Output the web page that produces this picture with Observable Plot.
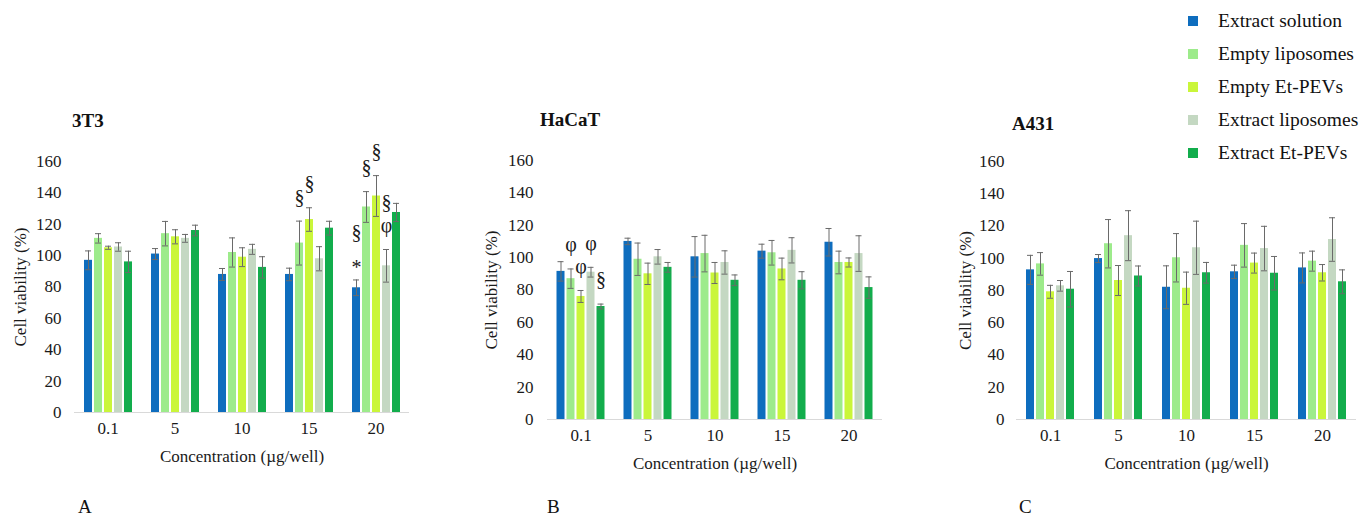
<!DOCTYPE html>
<html>
<head>
<meta charset="utf-8">
<script src="https://cdn.jsdelivr.net/npm/d3@7"></script>
<script src="https://cdn.jsdelivr.net/npm/@observablehq/plot@0.6"></script>
<style>
  body { margin: 0; background: #fff; font-family: "Liberation Serif", serif; }
  #page { position: relative; width: 1365px; height: 517px; overflow: hidden; background: #fff; }
  .abs { position: absolute; white-space: nowrap; }
  .title { font-weight: bold; font-size: 19px; line-height: 19px; color: #111; }
  .letter { font-size: 19px; line-height: 15px; color: #111; }
  .leg { font-size: 19.5px; line-height: 19.5px; color: #111; }
  .sw { width: 10px; height: 10px; }
  #page svg, #page svg text { font-family: "Liberation Serif", serif !important; }
</style>
</head>
<body>
<div id="page"></div>
<script>
// ---------- data ----------
const concentrations = ["0.1", "5", "10", "15", "20"];
const seriesNames = ["Extract solution", "Empty liposomes", "Empty Et-PEVs", "Extract liposomes", "Extract Et-PEVs"];
const seriesColors = ["#0E6DBE", "#9DEB8B", "#CAF63A", "#C4D8C2", "#12AD4C"];
const yTicks = [0, 20, 40, 60, 80, 100, 120, 140, 160];
const panelTitles = ["3T3", "HaCaT", "A431"];
const panelLetters = ["A", "B", "C"];

// 3T3 – rows: series, columns: concentrations
const mean3T3 = [
  [97, 101, 88, 88, 79.5],
  [111, 114, 102, 108, 131],
  [105, 112, 99, 123, 138],
  [105.5, 111, 104, 98, 93.5],
  [96, 116, 92.5, 117.5, 127.5]
];
const err3T3 = [
  [6, 3.5, 3.8, 4, 5],
  [3, 7.8, 9.3, 14, 9.8],
  [1, 4.5, 6, 7.5, 13],
  [2.7, 2.5, 3.2, 7.7, 10.4],
  [6.8, 3.4, 6.8, 4.4, 5.8]
];
const annot3T3 = [
  {conc: "15", series: "Empty liposomes", symbol: "§", level: 0},
  {conc: "15", series: "Empty Et-PEVs", symbol: "§", level: 0},
  {conc: "20", series: "Extract solution", symbol: "*", level: 0},
  {conc: "20", series: "Extract solution", symbol: "§", level: 1},
  {conc: "20", series: "Empty liposomes", symbol: "§", level: 0},
  {conc: "20", series: "Empty Et-PEVs", symbol: "§", level: 0},
  {conc: "20", series: "Extract liposomes", symbol: "φ", level: 0},
  {conc: "20", series: "Extract liposomes", symbol: "§", level: 1}
];

// HaCaT
const meanHaCaT = [
  [91.5, 110, 100.5, 104, 109.5],
  [87, 99, 102.5, 103, 97],
  [76, 90, 90.5, 93, 97],
  [91, 100.5, 97, 104.5, 102.5],
  [69.8, 94, 86, 86, 81.5]
];
const errHaCaT = [
  [6, 2, 12.5, 4.3, 8.5],
  [6, 10, 11.3, 7.6, 7],
  [3.7, 6.6, 6.5, 6.7, 2.8],
  [3, 4.5, 7.2, 7.8, 11],
  [1.5, 3, 3.3, 5.3, 6.6]
];
const annotHaCaT = [
  {conc: "0.1", series: "Empty liposomes", symbol: "φ", level: 0},
  {conc: "0.1", series: "Empty Et-PEVs", symbol: "φ", level: 0},
  {conc: "0.1", series: "Extract liposomes", symbol: "φ", level: 0},
  {conc: "0.1", series: "Extract Et-PEVs", symbol: "§", level: 0}
];

// A431
const meanA431 = [
  [92.8, 99.8, 82, 91.6, 94],
  [96.5, 109, 100.3, 108, 98.2],
  [79.2, 86.2, 81.4, 97, 91],
  [82.9, 114, 106.5, 106, 111.6],
  [80.8, 89, 91, 90.7, 85.4]
];
const errA431 = [
  [9, 2.5, 13.3, 4.1, 9.3],
  [7, 15, 15, 13.5, 6.2],
  [4, 9.3, 10, 6.2, 5.1],
  [3.3, 15.5, 16.5, 13.8, 13.5],
  [11, 6.2, 6.4, 10.4, 7.4]
];
const annotA431 = [];

// ---------- drawing ----------
const page = document.getElementById("page");

function place(el, left, top) {
  el.classList.add("abs");
  el.style.left = left + "px";
  el.style.top = top + "px";
  page.appendChild(el);
  return el;
}

function makePanel(mean, err, annot, layout) {
  const data = [];
  seriesNames.forEach((s, i) => concentrations.forEach((c, j) =>
    data.push({series: s, conc: c, mean: mean[i][j], err: err[i][j]})));
  const byKey = new Map(data.map(d => [d.series + "|" + d.conc, d]));
  const ann = annot.map(a => {
    const d = byKey.get(a.series + "|" + a.conc);
    const base = a.symbol === "*" ? 12 : 24;
    return {...a, top: d.mean + d.err, off: base + 23 * a.level};
  });
  const annGroups = d3.groups(ann, d => d.off);

  const chart = Plot.plot({
    width: layout.width,
    height: layout.height,
    marginLeft: layout.marginLeft,
    marginRight: layout.marginRight,
    marginTop: layout.marginTop,
    marginBottom: layout.marginBottom,
    style: {fontFamily: "'Liberation Serif', serif", fontSize: "17px", color: "#1a1a1a", background: "transparent", overflow: "visible"},
    fx: {domain: concentrations, padding: 0, axis: "bottom", tickSize: 0, tickPadding: 9,
         label: "Concentration (µg/well)", labelAnchor: "center", labelOffset: layout.xLabelOffset, labelArrow: false},
    x: {domain: seriesNames, axis: null, paddingInner: 0.2, paddingOuter: 0.95},
    y: {domain: [0, 160], ticks: yTicks, tickSize: 0, tickPadding: layout.tickPadding,
        label: "Cell viability (%)", labelAnchor: "center", labelOffset: layout.yLabelOffset, labelArrow: false},
    color: {domain: seriesNames, range: seriesColors},
    marks: [
      Plot.ruleY([0], {stroke: "#d9d9d9", strokeWidth: 1}),
      Plot.barY(data, {fx: "conc", x: "series", y: "mean", fill: "series"}),
      Plot.ruleX(data, {fx: "conc", x: "series", y1: d => d.mean - d.err, y2: d => d.mean + d.err, stroke: "#6a6a6a", strokeWidth: 1}),
      Plot.tickY(data, {fx: "conc", x: "series", y: d => d.mean + d.err, stroke: "#6a6a6a", strokeWidth: 1, insetLeft: 1, insetRight: 1}),
      Plot.tickY(data, {fx: "conc", x: "series", y: d => d.mean - d.err, stroke: "#6a6a6a", strokeWidth: 1, insetLeft: 1, insetRight: 1}),
      ...annGroups.map(([off, rows]) =>
        Plot.text(rows, {fx: "conc", x: "series", y: "top", text: "symbol", dy: -off,
                         fontSize: 20, lineAnchor: "middle", fill: "#1a1a1a"}))
    ]
  });
  place(chart, layout.left, layout.top);
}

const layouts = [
  {left: 0, top: 140, width: 415, height: 332, marginLeft: 73, marginRight: 6, marginTop: 21, marginBottom: 60, tickPadding: 13, yLabelOffset: 61, xLabelOffset: 49},
  {left: 470, top: 140, width: 418, height: 339, marginLeft: 76.5, marginRight: 6.5, marginTop: 20, marginBottom: 60, tickPadding: 14, yLabelOffset: 62.5, xLabelOffset: 49},
  {left: 940, top: 140, width: 423, height: 339, marginLeft: 74, marginRight: 5, marginTop: 21, marginBottom: 60, tickPadding: 12, yLabelOffset: 58, xLabelOffset: 49}
];

makePanel(mean3T3, err3T3, annot3T3, layouts[0]);
makePanel(meanHaCaT, errHaCaT, annotHaCaT, layouts[1]);
makePanel(meanA431, errA431, annotA431, layouts[2]);

// panel titles and letters
const titlePos = [[72, 111], [540, 110], [1012, 114]];
panelTitles.forEach((t, i) => {
  const el = document.createElement("div");
  el.className = "title";
  el.textContent = t;
  place(el, titlePos[i][0], titlePos[i][1]);
});
const letterPos = [[78, 499], [547, 499], [1019, 499]];
panelLetters.forEach((t, i) => {
  const el = document.createElement("div");
  el.className = "letter";
  el.textContent = t;
  place(el, letterPos[i][0], letterPos[i][1]);
});

// legend
seriesNames.forEach((s, i) => {
  const cy = 21 + i * 33;
  const sw = document.createElement("div");
  sw.className = "sw";
  sw.style.background = seriesColors[i];
  place(sw, 1188, cy - 5);
  const tx = document.createElement("div");
  tx.className = "leg";
  tx.textContent = s;
  place(tx, 1218, cy - 10);
});
</script>
</body>
</html>
